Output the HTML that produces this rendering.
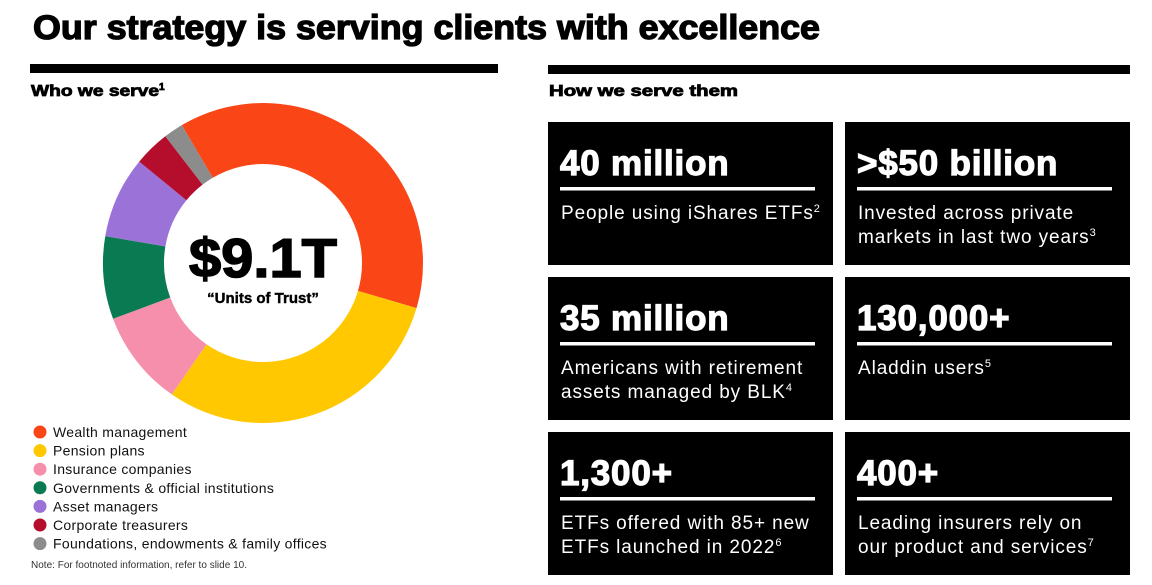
<!DOCTYPE html>
<html><head><meta charset="utf-8"><style>
html,body{margin:0;padding:0;background:#fff;}
svg{display:block;font-family:"Liberation Sans",Arial,sans-serif;}
</style></head><body>
<svg id="s" width="1152" height="585" viewBox="0 0 1152 585">
<text x="33" y="39" font-size="34" font-weight="bold" stroke="#000" stroke-width="1.3" textLength="787" lengthAdjust="spacingAndGlyphs">Our strategy is serving clients with excellence</text>
<rect x="30" y="64" width="468" height="9" fill="#000"/>
<text x="31" y="96" font-size="16" font-weight="bold" stroke="#000" stroke-width="0.8"><tspan textLength="128" lengthAdjust="spacingAndGlyphs">Who we serve</tspan><tspan font-size="10" dy="-6">1</tspan></text>
<rect x="548" y="65" width="582" height="9" fill="#000"/>
<text x="549" y="96" font-size="16" font-weight="bold" stroke="#000" stroke-width="0.8" textLength="189" lengthAdjust="spacingAndGlyphs">How we serve them</text>
<g id="donut"></g>
<text x="263" y="277" font-size="55" font-weight="bold" stroke="#000" stroke-width="1.5" text-anchor="middle" textLength="148" lengthAdjust="spacingAndGlyphs">$9.1T</text>
<text x="263" y="303" font-size="15" font-weight="bold" stroke="#000" stroke-width="0.4" text-anchor="middle">“Units of Trust”</text>
<g id="legend"></g>
<text x="31" y="568" font-size="10" fill="#333" textLength="216" lengthAdjust="spacingAndGlyphs">Note: For footnoted information, refer to slide 10.</text>
<g id="cards"></g>
</svg>
<script>
const categories = ["Wealth management","Pension plans","Insurance companies","Governments & official institutions","Asset managers","Corporate treasurers","Foundations, endowments & family offices"];
const values = [3.46, 2.74, 0.88, 0.76, 0.75, 0.33, 0.18];
const colors = ["#fa4616","#ffc800","#f58fab","#0a7a52","#9b72d8","#b50d2c","#8c8c8c"];
const startDeg = -30.5;
const NS = "http://www.w3.org/2000/svg";
const cx = 263, cy = 263, R = 160, r = 99;
const total = values.reduce((a,b)=>a+b,0);
function angleOf(v){ return v/total*360; }
function pt(deg, rad){ const a = (deg-90)*Math.PI/180; return [cx+rad*Math.cos(a), cy+rad*Math.sin(a)]; }
const donut = document.getElementById('donut');
let acc = startDeg;
values.forEach((v,i)=>{
  const a0 = acc, a1 = acc + angleOf(v); acc = a1;
  const large = (a1-a0) > 180 ? 1 : 0;
  const [x0,y0] = pt(a0,R), [x1,y1] = pt(a1,R), [x2,y2] = pt(a1,r), [x3,y3] = pt(a0,r);
  const p = document.createElementNS(NS,'path');
  p.setAttribute('d',`M${x0},${y0} A${R},${R} 0 ${large} 1 ${x1},${y1} L${x2},${y2} A${r},${r} 0 ${large} 0 ${x3},${y3} Z`);
  p.setAttribute('fill',colors[i]);
  
  
  donut.appendChild(p);
});
const legend = document.getElementById('legend');
categories.forEach((c,i)=>{
  const y = 432 + i*18.6;
  const ci = document.createElementNS(NS,'circle');
  ci.setAttribute('cx',40); ci.setAttribute('cy',y); ci.setAttribute('r',6.5); ci.setAttribute('fill',colors[i]);
  
  
  legend.appendChild(ci);
  const t = document.createElementNS(NS,'text');
  t.setAttribute('x',53); t.setAttribute('y',y+5); t.setAttribute('font-size','14'); t.setAttribute('fill','#111');
  t.setAttribute('letter-spacing','0.3');
  t.textContent = c;
  
  
  legend.appendChild(t);
});
const cardTitles = ["40 million",">$50 billion","35 million","130,000+","1,300+","400+"];
const cardLines = [["People using iShares ETFs|2"],["Invested across private","markets in last two years|3"],["Americans with retirement","assets managed by BLK|4"],["Aladdin users|5"],["ETFs offered with 85+ new","ETFs launched in 2022|6"],["Leading insurers rely on","our product and services|7"]];
const cards = document.getElementById('cards');
const colX = [548, 845], rowY = [122, 277, 432];
cardTitles.forEach((title,i)=>{
  const x = colX[i%2], y = rowY[Math.floor(i/2)];
  const g = document.createElementNS(NS,'g');
  
  
  const bg = document.createElementNS(NS,'rect');
  bg.setAttribute('x',x); bg.setAttribute('y',y); bg.setAttribute('width',285); bg.setAttribute('height',143); bg.setAttribute('fill','#000');
  g.appendChild(bg);
  const t = document.createElementNS(NS,'text');
  t.setAttribute('x',x+12); t.setAttribute('y',y+53); t.setAttribute('font-size','35'); t.setAttribute('font-weight','bold'); t.setAttribute('fill','#fff');
  t.setAttribute('stroke','#fff'); t.setAttribute('stroke-width','1.2'); t.setAttribute('letter-spacing','0.8');
  t.textContent = title;
  
  
  g.appendChild(t);
  const ln = document.createElementNS(NS,'rect');
  ln.setAttribute('x',x+12); ln.setAttribute('y',y+65); ln.setAttribute('width',255); ln.setAttribute('height',3.5); ln.setAttribute('fill','#fff');
  g.appendChild(ln);
  cardLines[i].forEach((l,j)=>{
    const parts = l.split('|');
    const d = document.createElementNS(NS,'text');
    d.setAttribute('x',x+13); d.setAttribute('y',y+97+j*24); d.setAttribute('font-size','19'); d.setAttribute('fill','#fff');
    d.setAttribute('letter-spacing','0.9');
    d.textContent = parts[0];
    if(parts[1]){ const s=document.createElementNS(NS,'tspan'); s.setAttribute('font-size','11'); s.setAttribute('dy','-7'); s.textContent=parts[1]; d.appendChild(s); }
    
    
    g.appendChild(d);
  });
  cards.appendChild(g);
});
</script>
</body></html>
